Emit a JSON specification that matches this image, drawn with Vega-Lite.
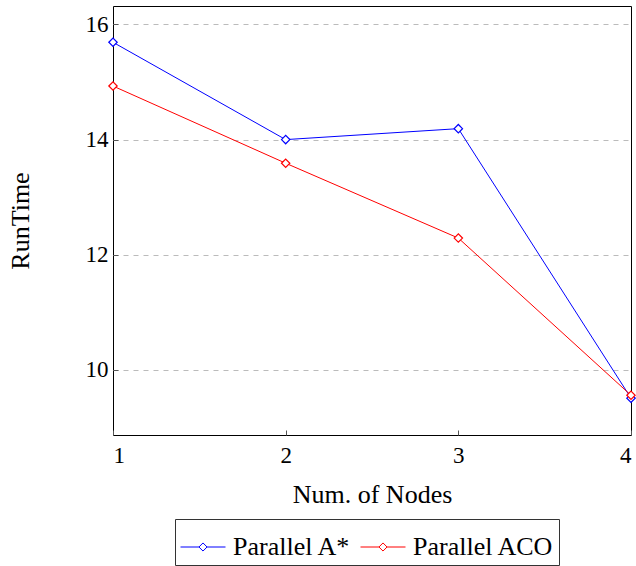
{
  "$schema": "https://vega.github.io/schema/vega-lite/v6.json",
  "width": 518,
  "height": 429,
  "autosize": "none",
  "padding": {"left": 113, "top": 6, "right": 5, "bottom": 131},
  "config": {
    "font": "Liberation Serif",
    "view": {"stroke": "#000000", "strokeWidth": 1},
    "axis": {
      "labelFont": "Liberation Serif",
      "titleFont": "Liberation Serif",
      "labelFontSize": 23,
      "titleFontSize": 26,
      "labelColor": "#000000",
      "titleColor": "#000000",
      "titleFontWeight": "normal",
      "domain": false,
      "tickColor": "#555555",
      "tickSize": -5,
      "gridColor": "#bbbbbb",
      "gridDash": [5, 5]
    },
    "legend": {
      "labelFont": "Liberation Serif",
      "labelFontSize": 26,
      "labelColor": "#000000"
    }
  },
  "data": {
    "values": [
      {"nodes": 1, "time": 15.69, "method": "Parallel A*"},
      {"nodes": 2, "time": 14.0, "method": "Parallel A*"},
      {"nodes": 3, "time": 14.19, "method": "Parallel A*"},
      {"nodes": 4, "time": 9.51, "method": "Parallel A*"},
      {"nodes": 1, "time": 14.93, "method": "Parallel ACO"},
      {"nodes": 2, "time": 13.59, "method": "Parallel ACO"},
      {"nodes": 3, "time": 12.29, "method": "Parallel ACO"},
      {"nodes": 4, "time": 9.56, "method": "Parallel ACO"}
    ]
  },
  "encoding": {
    "x": {
      "field": "nodes",
      "type": "quantitative",
      "scale": {"domain": [1, 4], "nice": false, "zero": false},
      "axis": {"values": [1, 2, 3, 4], "title": "Num. of Nodes", "grid": false, "labelPadding": 14, "titlePadding": 14, "format": "d"}
    },
    "y": {
      "field": "time",
      "type": "quantitative",
      "scale": {"domain": [8.87, 16.32], "nice": false, "zero": false},
      "axis": {"values": [10, 12, 14, 16], "title": "RunTime", "grid": true, "labelPadding": 10, "titlePadding": 52, "format": "d"}
    },
    "color": {
      "field": "method",
      "type": "nominal",
      "scale": {"domain": ["Parallel A*", "Parallel ACO"], "range": ["#0000ff", "#ff0000"]},
      "legend": {
        "title": null,
        "orient": "none",
        "direction": "horizontal",
        "legendX": 62,
        "legendY": 513,
        "strokeColor": "#333333",
        "padding": 5,
        "columnPadding": 7,
        "labelOffset": 7,
        "symbolType": "M-1,0L-0.18,0M0.18,0L1,0M0,-0.18L0.18,0L0,0.18L-0.18,0Z",
        "symbolSize": 2025,
        "symbolStrokeWidth": 1,
        "symbolFillColor": "white"
      }
    }
  },
  "layer": [
    {"mark": {"type": "line", "strokeWidth": 1}},
    {"mark": {"type": "point", "shape": "diamond", "filled": false, "fill": "white", "fillOpacity": 1, "size": 70, "strokeWidth": 1.2, "opacity": 1}}
  ]
}
